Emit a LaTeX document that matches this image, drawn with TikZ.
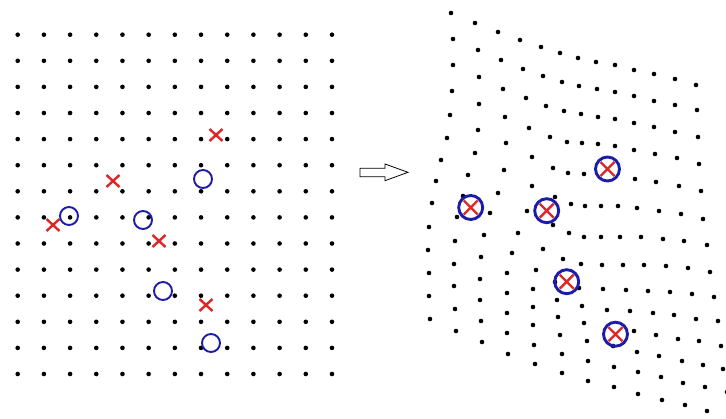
\documentclass[tikz,border=0pt]{standalone}
\definecolor{xred}{RGB}{222,38,38}
\definecolor{oblue}{RGB}{28,28,168}
\begin{document}
\begin{tikzpicture}[x=1pt,y=-1pt,
  dot/.style={fill=black},
  xmark/.style={draw=xred,line width=2.4pt},
  omark/.style={draw=oblue,line width=1.9pt},
  omarkbig/.style={draw=oblue,line width=2.9pt},
  xm/.pic={\draw[xmark] (-6.5,-6) -- (6.5,6) (-6.5,6) -- (6.5,-6);},
  om/.pic={\draw[omark] (0,0) circle (9);},
  xo/.pic={\draw[omarkbig] (0,0) circle (12);
           \draw[xmark] (-7,-7) -- (7,7) (-7,7) -- (7,-7);},
  openarrow/.style={draw=black,line width=0.8pt,fill=white}]
\useasboundingbox (0,0) rectangle (726,418);
% left regular grid
\foreach \i in {0,...,12}
  \foreach \j in {0,...,13}
    \fill[dot] ({17.7+26.19*\i},{34.7+26.1*\j}) circle (2.3);
% left landmarks
\foreach \p in {(216,135),(113,181),(53,225),(159,241),(206,305)}
  \pic at \p {xm};
\foreach \p in {(203,179),(69,216),(143,220),(163,291),(211,343)}
  \pic at \p {om};
% arrow
\draw[openarrow] (360,168.3) -- (385,168.3) -- (385,164) -- (408,172.3)
  -- (385,180.7) -- (385,176.7) -- (360,176.7) -- cycle;
% right warped grid
\foreach \p in {
 (451,13),(453,39),(453,65),(452,91),(450,115),(447,138),(441,160),(436,181),(432,203),(429,227),(428,250),(429,273),(429,296),(430,319),
 (475,23),(478,50),(479,77),(479,104),(478,130),(475,153),(468,175),(463,196),(457,217),(455,241),(454,264),(454,286),(455,309),(456,331),
 (498,32),(501,60),(503,89),(505,117),(506,143),(504,170),(498,193),(490,213),(484,235),(481,257),(480,279),(480,300),(481,321),(482,342),
 (520,40),(523,69),(526,98),(529,128),(532,157),(532,186),(527,211),(518,233),(512,253),(507,273),(507,293),(507,313),(507,333),(508,354),
 (541,47),(543,76),(546,106),(550,137),(553,168),(555,197),(553,225),(543,249),(536,270),(533,289),(533,307),(533,325),(534,345),(535,364),
 (560,53),(562,82),(564,111),(567,142),(568,173),(571,204),(569,233),(563,259),(555,282),(557,300),(558,317),(560,335),(562,354),(562,373),
 (578,58),(579,86),(581,114),(582,143),(584,174),(585,206),(584,237),(581,264),(579,288),(582,306),(584,323),(587,341),(588,361),(588,381),
 (596,62),(597,89),(598,117),(598,144),(601,206),(601,237),(602,265),(603,289),(607,310),(613,346),(614,367),(614,387),
 (615,65),(615,92),(615,119),(615,146),(618,206),(620,237),(623,265),(626,290),(630,311),(634,331),(637,352),(638,372),(638,394),
 (634,70),(634,96),(634,123),(634,150),(635,179),(637,208),(641,237),(644,265),(648,291),(653,313),(656,335),(659,356),(661,377),(662,400),
 (654,74),(654,101),(654,127),(655,154),(656,182),(659,211),(663,239),(666,266),(670,292),(674,315),(678,339),(682,361),(683,383),(685,405),
 (675,79),(675,105),(675,132),(677,158),(679,186),(681,214),(684,241),(688,268),(692,294),(696,319),(699,341),(703,365),(705,387),(707,411),
 (696,85),(697,110),(698,137),(699,164),(701,191),(703,219),(707,245),(710,272),(714,297),(718,321),(721,346),(723,369),(727,392)}
  \fill[dot] \p circle (2.3);
% right matched landmarks
\foreach \p in {(470.7,207.5),(546.7,210.7),(566.7,281.7),(615.5,334.2),(607.5,169)}
  \pic at \p {xo};
\end{tikzpicture}
\end{document}
